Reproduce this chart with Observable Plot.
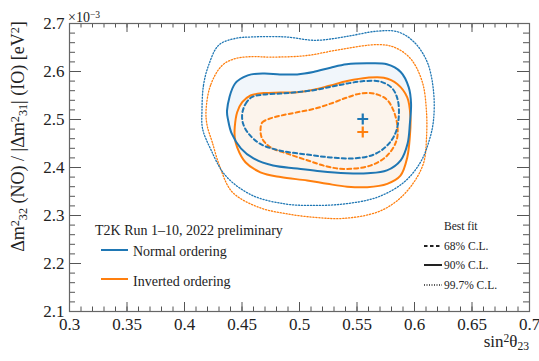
<!DOCTYPE html>
<html>
<head>
<meta charset="utf-8">
<script src="https://cdn.jsdelivr.net/npm/d3@7"></script>
<script src="https://cdn.jsdelivr.net/npm/@observablehq/plot@0.6"></script>
<style>
  html, body { margin: 0; padding: 0; background: #fff; }
  #chart svg { display: block; }
  #chart svg text { font-family: "Liberation Serif", serif; }
</style>
</head>
<body>
<div id="chart"></div>
<script>
// ---- data (x = sin^2 theta23, y = Δm² in 10^-3 eV²) ----
const no90 = [[0.437,2.519],[0.444,2.575],[0.455,2.592],[0.469,2.596],[0.483,2.594],[0.498,2.594],[0.512,2.599],[0.527,2.608],[0.541,2.615],[0.559,2.617],[0.576,2.615],[0.588,2.599],[0.595,2.567],[0.597,2.533],[0.596,2.492],[0.594,2.450],[0.588,2.415],[0.576,2.394],[0.559,2.388],[0.541,2.388],[0.518,2.392],[0.498,2.398],[0.477,2.404],[0.460,2.419],[0.449,2.440],[0.441,2.471],[0.438,2.498]];
const io90 = [[0.4437,2.484],[0.4458,2.515],[0.4502,2.536],[0.4574,2.550],[0.469,2.555],[0.4835,2.556],[0.498,2.557],[0.5124,2.562],[0.527,2.571],[0.5415,2.580],[0.5589,2.587],[0.5733,2.587],[0.585,2.574],[0.5937,2.546],[0.5965,2.505],[0.5959,2.463],[0.5937,2.421],[0.5878,2.383],[0.5763,2.366],[0.5589,2.359],[0.5415,2.360],[0.5241,2.366],[0.5067,2.373],[0.4835,2.380],[0.466,2.390],[0.453,2.411],[0.4458,2.442],[0.4437,2.463]];
const no68 = [[0.4502,2.512],[0.4532,2.533],[0.4589,2.547],[0.469,2.552],[0.4835,2.554],[0.498,2.557],[0.5124,2.561],[0.527,2.568],[0.5415,2.575],[0.5559,2.580],[0.5704,2.579],[0.5806,2.565],[0.5855,2.540],[0.5863,2.505],[0.5835,2.472],[0.5763,2.446],[0.5646,2.427],[0.5472,2.419],[0.527,2.421],[0.5067,2.427],[0.4835,2.435],[0.466,2.449],[0.4559,2.470],[0.451,2.491]];
const io68 = [[0.4661,2.477],[0.4676,2.494],[0.4733,2.501],[0.4835,2.508],[0.498,2.515],[0.5124,2.522],[0.527,2.533],[0.5415,2.546],[0.553,2.554],[0.5646,2.554],[0.5757,2.542],[0.5817,2.519],[0.5852,2.485],[0.5843,2.456],[0.5763,2.425],[0.5617,2.404],[0.5385,2.397],[0.5241,2.402],[0.5067,2.415],[0.4893,2.429],[0.4748,2.442],[0.4676,2.460]];
const no997 = [[0.4152,2.519],[0.4165,2.571],[0.4209,2.6125],[0.4298,2.655],[0.4443,2.669],[0.4589,2.672],[0.4878,2.672],[0.5139,2.665],[0.5385,2.672],[0.5676,2.684],[0.585,2.683],[0.5994,2.662],[0.611,2.620],[0.6165,2.560],[0.6165,2.498],[0.6124,2.453],[0.6052,2.411],[0.5907,2.369],[0.5676,2.338],[0.5385,2.324],[0.5096,2.321],[0.4878,2.324],[0.4589,2.342],[0.4357,2.383],[0.4226,2.439],[0.4157,2.481]];
const io997 = [[0.4328,2.613],[0.4226,2.571],[0.4187,2.517],[0.4197,2.4875],[0.4241,2.453],[0.4304,2.404],[0.4415,2.349],[0.4646,2.317],[0.4878,2.304],[0.5139,2.296],[0.5385,2.294],[0.5676,2.307],[0.585,2.331],[0.5994,2.369],[0.6081,2.411],[0.6104,2.460],[0.6104,2.517],[0.6067,2.579],[0.5965,2.627],[0.582,2.651],[0.5676,2.656],[0.5357,2.646],[0.5052,2.633],[0.4748,2.630],[0.4589,2.631],[0.4443,2.627]];
const bestFit = [{x: 0.555, y: 2.501, o: "NO"}, {x: 0.555, y: 2.474, o: "IO"}];

const xMajor = [0.3,0.35,0.4,0.45,0.5,0.55,0.6,0.65,0.7];
const xMinor = d3.range(30, 71).map(d => d / 100);
const yMajor = [2.1,2.2,2.3,2.4,2.5,2.6,2.7];
const yMinor = d3.range(105, 136).map(d => d / 50);

const orderNames = ["Normal ordering", "Inverted ordering"];
const clNames = ["68% C.L.", "90% C.L.", "99.7% C.L."];
const titleText = "T2K Run 1–10, 2022 preliminary";

// ---- styles ----
const BLUE = "#1f77b4", ORANGE = "#ff7f0e";
const BLUE_FILL = "#f1f6fb", ORANGE_FILL = "#fcf4ec";
const W = 539, H = 361, mL = 69, mR = 10, mT = 23, mB = 50;
const iw = W - mL - mR, ih = H - mT - mB;
const curve = "catmull-rom-closed";
const tickCol = "#555";
const SERIF = "Liberation Serif, serif";

const lineOpts = (stroke, kind) => ({
  x: d => d[0], y: d => d[1], curve, stroke,
  strokeWidth: kind === "dot" ? 1.3 : 2,
  strokeDasharray: kind === "dash" ? "4,3" : kind === "dot" ? "1.2,1.8" : null
});

const chart = Plot.plot({
  width: W, height: H,
  marginLeft: mL, marginRight: mR, marginTop: mT, marginBottom: mB,
  x: {domain: [0.3, 0.7]},
  y: {domain: [2.1, 2.7]},
  style: {fontFamily: SERIF, fontSize: "17px", color: "#222", background: "white"},
  marks: [
    Plot.line(no90, {x: d => d[0], y: d => d[1], curve, stroke: "none", fill: BLUE_FILL}),
    Plot.line(io90, {x: d => d[0], y: d => d[1], curve, stroke: "none", fill: ORANGE_FILL}),
    Plot.line(io997, lineOpts(ORANGE, "dot")),
    Plot.line(no997, lineOpts(BLUE, "dot")),
    Plot.line(io90, lineOpts(ORANGE, "solid")),
    Plot.line(io68, lineOpts(ORANGE, "dash")),
    Plot.line(no90, lineOpts(BLUE, "solid")),
    Plot.line(no68, lineOpts(BLUE, "dash")),
    Plot.dot(bestFit, {x: "x", y: "y", symbol: "plus", r: 3.6, strokeWidth: 2.2,
      stroke: d => d.o === "NO" ? BLUE : ORANGE}),
    // inward ticks, all four sides
    Plot.ruleX(xMajor, {x: d => d, insetTop: ih - 9, stroke: tickCol}),
    Plot.ruleX(xMajor, {x: d => d, insetBottom: ih - 9, stroke: tickCol}),
    Plot.ruleX(xMinor, {x: d => d, insetTop: ih - 4.5, stroke: tickCol}),
    Plot.ruleX(xMinor, {x: d => d, insetBottom: ih - 4.5, stroke: tickCol}),
    Plot.ruleY(yMajor, {y: d => d, insetRight: iw - 12, stroke: tickCol}),
    Plot.ruleY(yMajor, {y: d => d, insetLeft: iw - 12, stroke: tickCol}),
    Plot.ruleY(yMinor, {y: d => d, insetRight: iw - 6, stroke: tickCol}),
    Plot.ruleY(yMinor, {y: d => d, insetLeft: iw - 6, stroke: tickCol}),
    Plot.frame({stroke: "#666", strokeWidth: 1.2}),
    Plot.axisX({ticks: xMajor, tickSize: 0, tickPadding: 6, label: null, fontFamily: SERIF, fontSize: 17,
      tickFormat: d => String(+d.toFixed(2))}),
    Plot.axisY({ticks: yMajor, tickSize: 0, tickPadding: 5, label: null, fontFamily: SERIF, fontSize: 17,
      tickFormat: d => String(+d.toFixed(1))})
  ]
});
document.getElementById("chart").appendChild(chart);

// ---- text labels & legend ----
const svg = d3.select(chart);

function txt(g, x, y, size, anchor) {
  return g.append("text").attr("x", x).attr("y", y)
    .attr("font-family", SERIF).attr("font-size", size)
    .attr("fill", "#222").attr("text-anchor", anchor || "start");
}
function richText(g, parts, size, anchor) {
  const t = txt(g, 0, 0, size, anchor);
  parts.forEach(([s, k]) => {
    const sp = t.append("tspan").text(s);
    if (k === "sup") sp.attr("font-size", size * 0.68).attr("baseline-shift", "40%");
    if (k === "sub") sp.attr("font-size", size * 0.68).attr("baseline-shift", "-22%");
  });
  return t;
}

// y label
const yl = svg.append("g").attr("transform", `translate(24,${(20 + 253) / 2}) rotate(-90)`);
richText(yl, [["Δm", null], ["2", "sup"], ["32", "sub"], [" (NO) / |Δm", null], ["2", "sup"], ["31", "sub"], ["| (IO) [eV", null], ["2", "sup"], ["]", null]], 18, "middle");

// x label
const xl = svg.append("g").attr("transform", `translate(${W - 10},346.5)`);
richText(xl, [["sin", null], ["2", "sup"], ["θ", null], ["23", "sub"]], 17, "end");

// exponent
const ex = svg.append("g").attr("transform", `translate(68,21.5)`);
richText(ex, [["×10", null], ["−3", "sup"]], 14, "start");

// left legend
const lg = svg.append("g");
txt(lg, 95, 235, 14).text(titleText);
[[BLUE, 250, 256], [ORANGE, 279, 285.5]].forEach(([c, ly, ty], i) => {
  lg.append("line").attr("x1", 101).attr("x2", 128).attr("y1", ly).attr("y2", ly).attr("stroke", c).attr("stroke-width", 2);
  txt(lg, 133, ty, 14).text(orderNames[i]);
});

// right legend
const rg = svg.append("g");
rg.append("path").attr("d", d3.symbol(d3.symbolPlus, 40)()).attr("transform", "translate(433,225.5)").attr("fill", "#111");
txt(rg, 444, 230, 11.5).text("Best fit");
[["3.5,2.5", 246, 250, 2], [null, 265, 269, 2], ["1,1.5", 285, 289, 1.3]].forEach(([da, ly, ty, sw], i) => {
  rg.append("line").attr("x1", 424).attr("x2", 442).attr("y1", ly).attr("y2", ly).attr("stroke", "#222")
    .attr("stroke-width", sw).attr("stroke-dasharray", da);
  txt(rg, 444, ty, 11.5).text(clNames[i]);
});
</script>
</body>
</html>
